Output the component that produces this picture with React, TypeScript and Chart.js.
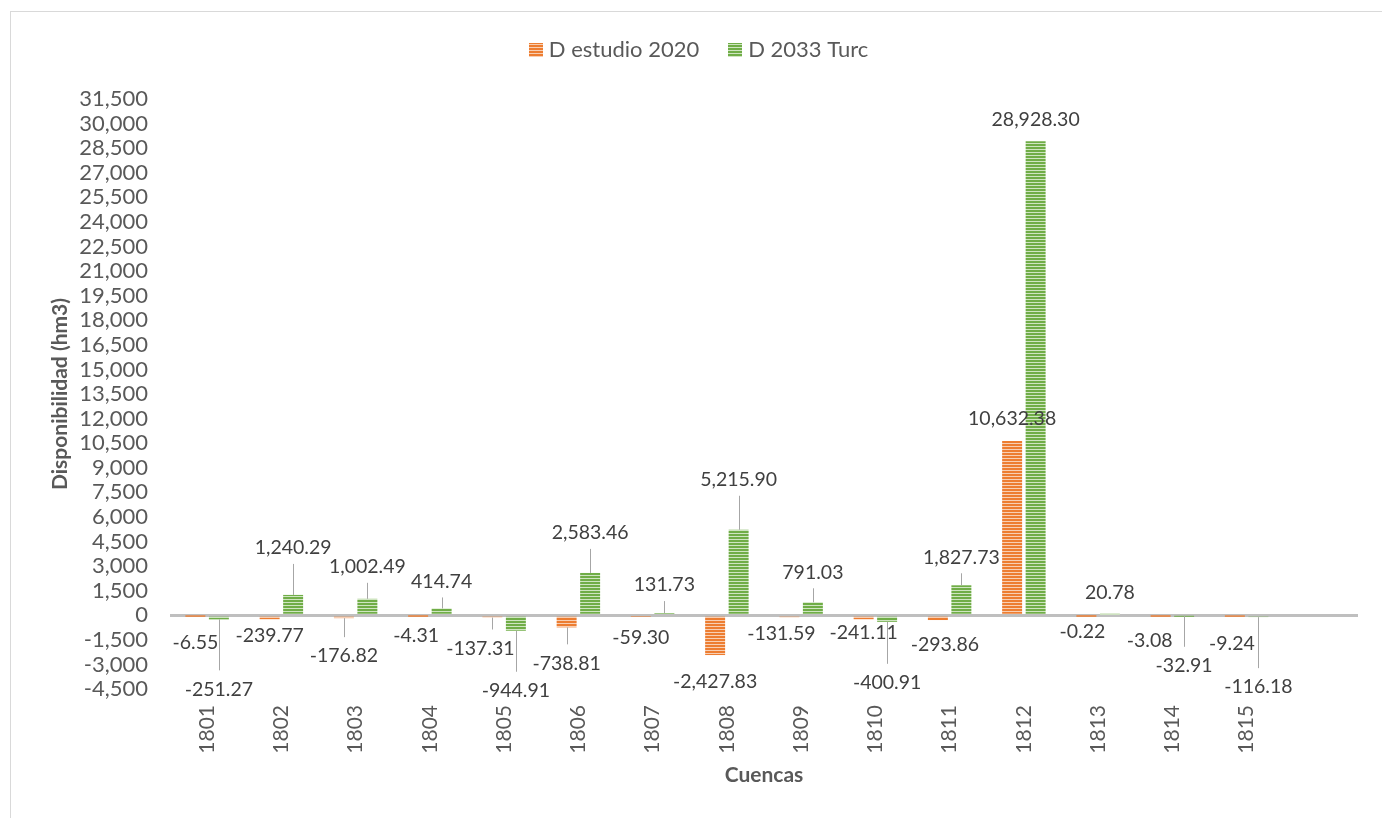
import { useEffect, useRef } from 'react';
import { Chart, registerables } from 'chart.js';

Chart.register(...registerables);

// Cuencas (catchment codes) on the category axis
const CUENCAS = ['1801', '1802', '1803', '1804', '1805', '1806', '1807', '1808', '1809', '1810', '1811', '1812', '1813', '1814', '1815'];

// Disponibilidad (hm3) per catchment
const D_ESTUDIO_2020 = [-6.55, -239.77, -176.82, -4.31, -137.31, -738.81, -59.3, -2427.83, -131.59, -241.11, -293.86, 10632.38, -0.22, -3.08, -9.24];
const D_2033_TURC = [-251.27, 1240.29, 1002.49, 414.74, -944.91, 2583.46, 131.73, 5215.9, 791.03, -400.91, 1827.73, 28928.3, 20.78, -32.91, -116.18];

const SERIES_NAMES = ['D estudio 2020', 'D 2033 Turc'];

// Value axis ticks
const Y_MIN = -4500;
const Y_MAX = 31500;
const Y_STEP = 1500;

// Hand-placed data label offsets [dx, dy] in px from the end of each bar
const LABEL_OFFSETS_2020: [number, number][] = [
  [0, 27], [0, 17], [0, 38], [-2, 20], [-12, 31], [0, 36], [0, 21], [0, 27],
  [-8, 16], [0, 14], [7, 25], [0, -22], [-4, 16], [-11, 25], [-3, 28],
];
const LABEL_OFFSETS_TURC: [number, number][] = [
  [0, 70], [0, -47], [0, -32], [0, -27], [0, 60], [0, -40], [0, -28], [0, -50],
  [0, -30], [0, 61], [0, -28], [0, -21], [0, -22], [0, 50], [0, 70],
];

const FONT = 'Lato';
const TEXT = '#595959';
const LABEL_TEXT = '#404040';

function stripes(color: string, light: string): CanvasPattern | string {
  const c = document.createElement('canvas');
  c.width = 4;
  c.height = 3;
  const g = c.getContext('2d');
  if (!g) return color;
  g.fillStyle = color;
  g.fillRect(0, 0, 4, 2);
  g.fillStyle = light;
  g.fillRect(0, 2, 4, 1);
  const p = g.createPattern(c, 'repeat');
  return p || color;
}

const fmtValue = (v: number) =>
  v.toLocaleString('en-US', { minimumFractionDigits: 2, maximumFractionDigits: 2 });

const valueLabels = {
  id: 'valueLabels',
  afterDatasetsDraw(chart: any) {
    const ctx = chart.ctx as CanvasRenderingContext2D;
    const offsets = [LABEL_OFFSETS_2020, LABEL_OFFSETS_TURC];
    ctx.save();
    ctx.font = `19.5px ${FONT}`;
    ctx.textAlign = 'center';
    ctx.textBaseline = 'middle';
    chart.data.datasets.forEach((ds: any, i: number) => {
      const meta = chart.getDatasetMeta(i);
      meta.data.forEach((el: any, j: number) => {
        const v = ds.data[j];
        if (v == null) return;
        const [dx, dy] = offsets[i][j];
        const yEnd = el.y;
        const lx = el.x + dx;
        const ly = yEnd + dy;
        const tip = dy < 0 ? ly + 16 : ly - 19;
        const len = dy < 0 ? yEnd - tip : tip - yEnd;
        if (len > 10) {
          ctx.strokeStyle = '#a6a6a6';
          ctx.lineWidth = 1;
          ctx.beginPath();
          ctx.moveTo(Math.round(el.x) + 0.5, yEnd);
          ctx.lineTo(Math.round(el.x) + 0.5, tip);
          ctx.stroke();
        }
        ctx.fillStyle = LABEL_TEXT;
        ctx.fillText(fmtValue(v), lx, ly);
      });
    });
    ctx.restore();
  },
};

const legendRow = {
  id: 'legendRow',
  afterDraw(chart: any) {
    const ctx = chart.ctx as CanvasRenderingContext2D;
    ctx.save();
    ctx.font = `22px ${FONT}`;
    const box = 14;
    const gap = 6;
    const spacing = 29;
    const items = chart.data.datasets.map((ds: any) => ({ text: ds.label, fill: ds.backgroundColor }));
    const widths = items.map((it: any) => box + gap + ctx.measureText(it.text).width);
    const total = widths.reduce((a: number, b: number) => a + b, 0) + spacing * (items.length - 1);
    let x = chart.width / 2 - total / 2;
    const cy = 38;
    items.forEach((it: any, i: number) => {
      ctx.fillStyle = it.fill;
      ctx.fillRect(Math.round(x), cy - box / 2, box, box);
      ctx.fillStyle = TEXT;
      ctx.textAlign = 'left';
      ctx.textBaseline = 'middle';
      ctx.fillText(it.text, x + box + gap, cy);
      x += widths[i] + spacing;
    });
    ctx.restore();
  },
};

export default function App() {
  const canvasRef = useRef<HTMLCanvasElement | null>(null);

  useEffect(() => {
    if (!canvasRef.current) return;
    const orange = stripes('#ED7D31', '#f8cfb3');
    const green = stripes('#70AD47', '#cfe5c1');

    const chart = new Chart(canvasRef.current, {
      type: 'bar',
      data: {
        labels: [...CUENCAS, ''],
        datasets: [
          { label: SERIES_NAMES[0], data: [...D_ESTUDIO_2020, null], backgroundColor: orange as any, borderWidth: 0 },
          { label: SERIES_NAMES[1], data: [...D_2033_TURC, null], backgroundColor: green as any, borderWidth: 0 },
        ],
      },
      options: {
        animation: false,
        responsive: true,
        maintainAspectRatio: false,
        layout: { padding: { top: 87, right: 28, left: 0, bottom: 0 } },
        datasets: { bar: { categoryPercentage: 0.633, barPercentage: 0.85 } },
        plugins: {
          legend: { display: false },
          tooltip: { enabled: false },
        },
        scales: {
          x: {
            grid: { display: false, drawTicks: false },
            border: { display: false },
            ticks: {
              autoSkip: false,
              minRotation: 90,
              maxRotation: 90,
              padding: 16,
              color: TEXT,
              font: { family: FONT, size: 21 },
            },
            title: {
              display: true,
              text: 'Cuencas',
              color: TEXT,
              font: { family: FONT, size: 21, weight: 'bold' },
              padding: { top: 0, bottom: 34 },
            },
            afterFit: (s: any) => {
              s.height = 133;
            },
          },
          y: {
            min: Y_MIN,
            max: Y_MAX,
            grid: {
              drawTicks: false,
              color: (c: any) => (c.tick && c.tick.value === 0 ? '#bfbfbf' : 'rgba(0,0,0,0)'),
              lineWidth: 3,
            },
            border: { display: false },
            ticks: {
              autoSkip: false,
              stepSize: Y_STEP,
              padding: 22,
              color: TEXT,
              font: { family: FONT, size: 22 },
              callback: (v: any) => Number(v).toLocaleString('en-US'),
            },
            title: {
              display: true,
              text: 'Disponibilidad (hm3)',
              color: TEXT,
              font: { family: FONT, size: 21, weight: 'bold' },
              padding: { top: 37, bottom: 0 },
            },
            afterFit: (s: any) => {
              s.width = 159;
            },
          },
        },
      },
      plugins: [valueLabels, legendRow],
    });
    return () => chart.destroy();
  }, []);

  return (
    <div style={{ paddingTop: 3, paddingLeft: 2 }}>
      <div
        style={{
          position: 'relative',
          width: 1375,
          height: 810,
          border: '1px solid #d9d9d9',
          background: '#ffffff',
        }}
      >
        <canvas ref={canvasRef} />
      </div>
    </div>
  );
}
